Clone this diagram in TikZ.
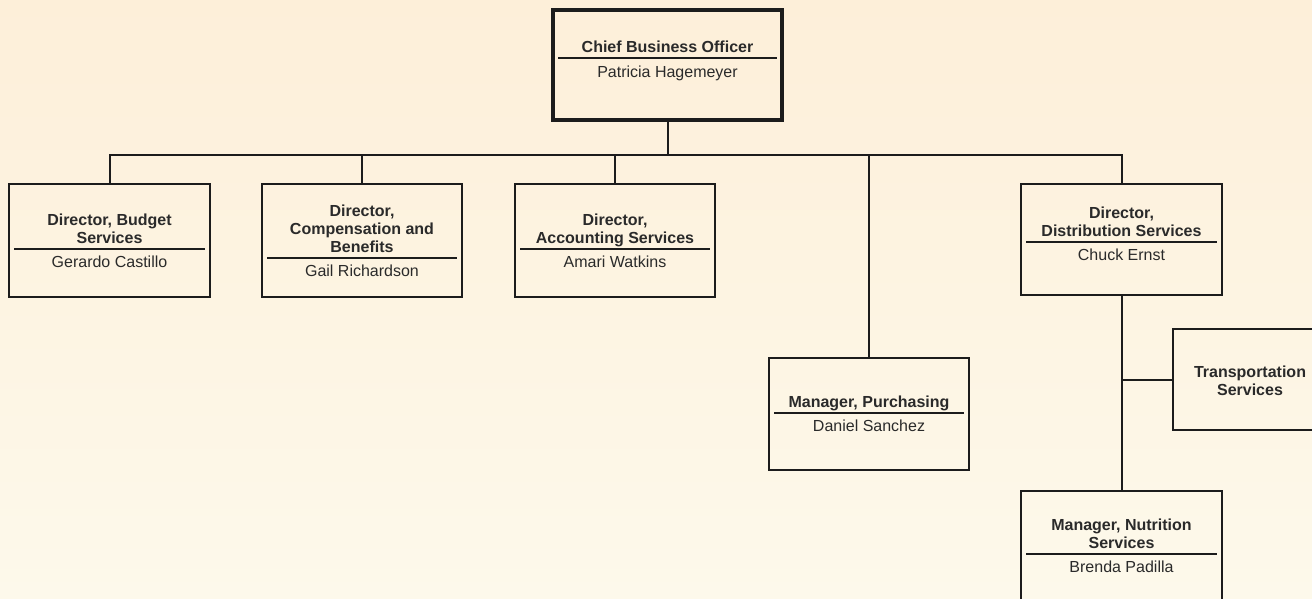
\documentclass[tikz,border=0pt]{standalone}
\usepackage{fontspec}
\setmainfont{Liberation Sans}
\usetikzlibrary{calc}
\definecolor{bgtop}{HTML}{FDEFD9}
\definecolor{bgbot}{HTML}{FDF9EB}
\definecolor{ink}{HTML}{1C1C1C}
\definecolor{txt}{HTML}{2A2A2A}
\tikzset{
  box/.style={draw=ink, line width=2pt, rectangle, inner sep=0},
  bossbox/.style={box, line width=4pt},
  conn/.style={draw=ink, line width=2pt},
  divline/.style={draw=ink, line width=2pt},
  ttl/.style={font=\bfseries\fontsize{16}{18}\selectfont, text=txt, align=center, inner sep=0},
  nm/.style={font=\fontsize{16}{18}\selectfont, text=txt, inner sep=0, anchor=base},
}
\begin{document}
\begin{tikzpicture}[x=1pt,y=-1pt]
\useasboundingbox (0,0) rectangle (1312,598);
\clip (0,0) rectangle (1312,598);
\shade[top color=bgtop, bottom color=bgbot] (0,0) rectangle (1312,598);

% boxes
\node[bossbox, minimum width=229, minimum height=110] (cbo) at (667.5,65) {};
\node[box, minimum width=201, minimum height=113] (b1) at (109.5,240.5) {};
\node[box, minimum width=200, minimum height=113] (b2) at (362,240.5) {};
\node[box, minimum width=200, minimum height=113] (b3) at (615,240.5) {};
\node[box, minimum width=200, minimum height=112] (pur) at (869,414) {};
\node[box, minimum width=201, minimum height=111] (dist) at (1121.5,239.5) {};
\node[box, minimum width=154, minimum height=101] (trans) at (1250,379.5) {};
\node[box, minimum width=201, minimum height=113] (nut) at (1121.5,547.5) {};

% dividers
\draw[divline] ($(cbo.north west)+(7,50)$) -- ($(cbo.north east)+(-7,50)$);
\draw[divline] ($(b1.north west)+(6,66)$) -- ($(b1.north east)+(-6,66)$);
\draw[divline] ($(b2.north west)+(6,75)$) -- ($(b2.north east)+(-6,75)$);
\draw[divline] ($(b3.north west)+(6,66)$) -- ($(b3.north east)+(-6,66)$);
\draw[divline] ($(pur.north west)+(6,56)$) -- ($(pur.north east)+(-6,56)$);
\draw[divline] ($(dist.north west)+(6,59)$) -- ($(dist.north east)+(-6,59)$);
\draw[divline] ($(nut.north west)+(6,64)$) -- ($(nut.north east)+(-6,64)$);

% titles
\node[ttl, anchor=south] (cbot) at ($(cbo.north)+(0,50.4)$) {Chief Business Officer\strut};
\node[ttl, anchor=south] (b1t) at ($(b1.north)+(0,66.2)$) {Director, Budget\\Services\strut};
\node[ttl, anchor=south] (b2t) at ($(b2.north)+(0,75.2)$) {Director,\\Compensation and\\Benefits\strut};
\node[ttl, anchor=south] (b3t) at ($(b3.north)+(0,66.2)$) {Director,\\Accounting Services\strut};
\node[ttl, anchor=south] (purt) at ($(pur.north)+(0,56.2)$) {Manager, Purchasing\strut};
\node[ttl, anchor=south] (distt) at ($(dist.north)+(0,59.2)$) {Director,\\Distribution Services\strut};
\node[ttl, anchor=south] (nutt) at ($(nut.north)+(0,64.2)$) {Manager, Nutrition\\Services\strut};
\node[ttl] (transt) at ($(trans.center)+(0,1)$) {Transportation\\Services};

% names
\node[nm] (cbon) at ($(cbo.north)+(0,69.5)$) {Patricia Hagemeyer};
\node[nm] (b1n) at ($(b1.north)+(0,84.5)$) {Gerardo Castillo};
\node[nm] (b2n) at ($(b2.north)+(0,93.5)$) {Gail Richardson};
\node[nm] (b3n) at ($(b3.north)+(0,84.5)$) {Amari Watkins};
\node[nm] (purn) at ($(pur.north)+(0,74.5)$) {Daniel Sanchez};
\node[nm] (distn) at ($(dist.north)+(0,77.5)$) {Chuck Ernst};
\node[nm] (nutn) at ($(nut.north)+(0,82.5)$) {Brenda Padilla};

% connectors
\coordinate (busy) at (0,155);
\draw[conn] (cbo.south) -- (cbo.south |- busy);
\draw[conn] (b1.north) -- (b1.north |- busy) -- (dist.north |- busy) -- (dist.north);
\draw[conn] (b2.north) -- (b2.north |- busy);
\draw[conn] (b3.north) -- (b3.north |- busy);
\draw[conn] (pur.north) -- (pur.north |- busy);
\draw[conn] (dist.south) -- (nut.north);
\draw[conn] (trans.west) -- (trans.west -| dist.south);
\end{tikzpicture}
\end{document}
